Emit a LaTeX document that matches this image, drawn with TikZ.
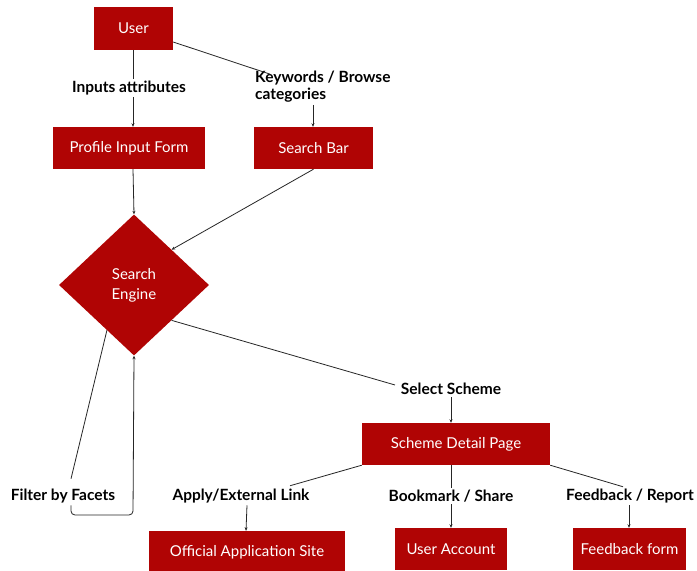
\documentclass[tikz,border=0pt]{standalone}
\usepackage{fontspec}
\setmainfont{Lato}
\usetikzlibrary{shapes.geometric,arrows.meta,calc}
\definecolor{boxred}{RGB}{176,4,4}
\begin{document}
\begin{tikzpicture}[x=1pt,y=-1pt,
  box/.style={rectangle, fill=boxred, text=white, font=\fontsize{15}{18}\selectfont, inner sep=0pt},
  lbl/.style={font=\bfseries\fontsize{15.5}{17}\selectfont, inner sep=2pt},
  conn/.style={line width=0.8pt, draw=black!85},
  arr/.style={conn, -{Stealth[length=3.5pt,width=3pt]}}
]
\useasboundingbox[fill=white] (0,0) rectangle (697,571);
% boxes
\node[box, minimum width=79pt, minimum height=43pt] (user) at (133.5,28.5) {User};
\node[box, minimum width=152pt, minimum height=42pt] (prof) at (129,148) {Profile Input Form};
\node[box, minimum width=119pt, minimum height=42pt] (sbar) at (313.5,148) {Search Bar};
\node[diamond, fill=boxred, text=white, font=\fontsize{15}{20}\selectfont, align=center,
      minimum width=150pt, minimum height=141pt, inner sep=0pt] (se) at (134,285) {Search\\Engine};
\node[box, minimum width=188pt, minimum height=42pt] (sdp) at (456,444) {Scheme Detail Page};
\node[box, minimum width=196pt, minimum height=42pt] (oas) at (247,552) {Official Application Site};
\node[box, minimum width=112pt, minimum height=42pt] (uacc) at (451,549) {User Account};
\node[box, minimum width=113pt, minimum height=42pt] (fbf) at (629.5,549) {Feedback form};
% labels
\node[lbl] (inp) at (129,88) {Inputs attributes};
\node[lbl, align=left, anchor=west] (kw) at (253,87) {Keywords / Browse\\categories};
\node[lbl] (ss) at (451,389) {Select Scheme};
\node[lbl] (ff) at (63,496) {Filter by Facets};
\node[lbl] (ael) at (241,496) {Apply/External Link};
\node[lbl] (bms) at (451,496) {Bookmark / Share};
\node[lbl] (fbr) at (630,496) {Feedback / Report};
\coordinate (loop) at (133,515);
% connectors
\draw[conn] ([xshift=-0.5pt]user.south) -- ([xshift=4pt]inp.north);
\draw[arr] ([xshift=4pt]inp.south) -- ([xshift=4pt]prof.north);
\draw[conn] ([yshift=-13.5pt]user.east) -- ([xshift=17pt,yshift=-5pt]kw.north west);
\draw[arr] ([xshift=60pt]kw.south west) -- ([xshift=-0.5pt]sbar.north);
\draw[arr] ([xshift=4pt]prof.south) -- (se.north);
\draw[arr] (sbar.south) -- (se.north east);
\draw[conn] (se.south east) -- ([xshift=-56pt,yshift=-4pt]ss.north);
\draw[arr] (ss.south) -- ([xshift=-5pt]sdp.north);
\draw[conn] ($(se.west)!0.64!(se.south)$) -- ([xshift=8pt,yshift=8pt]ff.north);
\draw[arr] ([xshift=8pt]ff.south) [rounded corners=4pt] |- (loop) [sharp corners] -- (se.south);
\draw[conn] (sdp.south west) -- ([xshift=49pt,yshift=1pt]ael.north);
\draw[arr] ([xshift=6pt]ael.south) -- ([xshift=-1pt]oas.north);
\draw[conn] ([xshift=-5pt]sdp.south) -- (bms.north);
\draw[arr] (bms.south) -- (uacc.north);
\draw[conn] (sdp.south east) -- ([xshift=-7pt]fbr.north);
\draw[arr] ([xshift=-1pt]fbr.south) -- ([xshift=-0.5pt]fbf.north);
\end{tikzpicture}
\end{document}
